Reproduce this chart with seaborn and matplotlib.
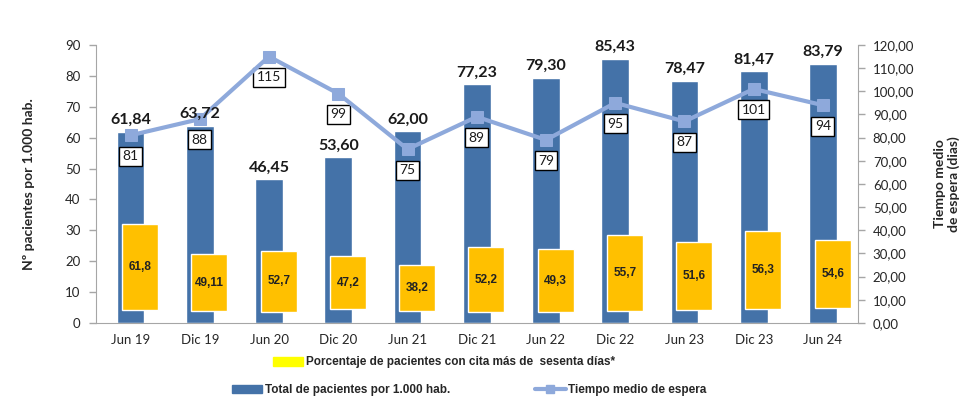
import numpy as np
import matplotlib
matplotlib.use("Agg")
import matplotlib.pyplot as plt
import seaborn as sns
from matplotlib.patches import Patch
from matplotlib.lines import Line2D

# Data
periods = ["Jun 19", "Dic 19", "Jun 20", "Dic 20", "Jun 21", "Dic 21",
           "Jun 22", "Dic 22", "Jun 23", "Dic 23", "Jun 24"]
total_pacientes = [61.84, 63.72, 46.45, 53.60, 62.00, 77.23,
                   79.30, 85.43, 78.47, 81.47, 83.79]
tiempo_espera = [81, 88, 115, 99, 75, 89, 79, 95, 87, 101, 94]
pct_sesenta = ["61,8", "49,11", "52,7", "47,2", "38,2", "52,2",
               "49,3", "55,7", "51,6", "56,3", "54,6"]
# yellow boxes as drawn in the original (left axis units)
pct_box_low = [4.3, 3.8, 3.6, 4.6, 3.8, 3.6, 3.6, 3.8, 4.3, 4.6, 4.9]
pct_box_high = [32.0, 22.3, 23.3, 21.6, 18.7, 24.5, 23.9, 28.4, 26.3, 29.7, 26.8]

BLUE = "#4472A8"
YELLOW = "#FFC000"
LINE = "#8EA9DB"
GRID = "#A6A6A6"

sns.set_style("white")
plt.rcParams["font.family"] = ["Lato", "DejaVu Sans"]

fig = plt.figure(figsize=(9.69, 4.05), dpi=100)
ax = fig.add_axes([0.099, 0.2025, 0.786, 0.6865])

sns.barplot(x=periods, y=total_pacientes, color=BLUE, width=0.4,
            saturation=1, ax=ax, zorder=2)

x = np.arange(len(periods))
low = np.array(pct_box_low)
high = np.array(pct_box_high)
ax.bar(x + 0.14, high - low, bottom=low, width=0.52, color=YELLOW, zorder=3)

for i, lab in enumerate(pct_sesenta):
    ax.text(i + 0.14, (low[i] + high[i]) / 2, lab, ha="center", va="center",
            fontsize=8.5, fontweight="bold", color="#222222",
            family=["Liberation Sans", "DejaVu Sans"], zorder=4)

ax.set_xlim(-0.5, len(periods) - 0.5)
ax.set_ylim(0, 90)
ax.set_yticks(range(0, 91, 10))
ax.set_xticks(x)
ax.set_xticklabels(periods, fontsize=9.5)
ax.set_xticks(np.arange(-0.5, len(periods), 1), minor=True)
ax.tick_params(axis="x", which="major", length=0, pad=8)
ax.tick_params(axis="x", which="minor", length=5, color=GRID, width=1)
ax.tick_params(axis="y", length=5, color=GRID, width=1, labelsize=9.5, pad=6)
ax.set_ylabel("Nº pacientes por 1.000 hab.", fontsize=10, fontweight="bold",
              labelpad=22)
ax.set_xlabel("")
for side in ["top", "right"]:
    ax.spines[side].set_visible(False)
for side in ["left", "bottom"]:
    ax.spines[side].set_color(GRID)

ax2 = ax.twinx()
sns.lineplot(x=x, y=tiempo_espera, color=LINE, linewidth=3, marker="s",
             markersize=8, markeredgecolor=LINE, ax=ax2, zorder=5)
for i, v in enumerate(tiempo_espera):
    ax2.annotate(str(v), (i, v), xytext=(0, -15), textcoords="offset points",
                 ha="center", va="center", fontsize=10, color="#1a1a1a",
                 bbox=dict(boxstyle="square,pad=0.25", fc="white", ec="black", lw=1))
# bar totals drawn above the line, as in the original
for i, v in enumerate(total_pacientes):
    ax2.annotate(f"{v:.2f}".replace(".", ","), (i, v), xycoords=ax.transData,
                 xytext=(0, 3.5), textcoords="offset points", ha="center",
                 va="bottom", fontsize=11.5, fontweight="bold", color="#1a1a1a",
                 zorder=6)
ax2.set_ylim(0, 120)
ax2.set_yticks(range(0, 121, 10))
ax2.set_yticklabels([f"{t},00" for t in range(0, 121, 10)])
ax2.tick_params(axis="y", length=5, color=GRID, width=1, labelsize=9.5, pad=6)
ax2.set_ylabel("Tiempo medio\nde espera (dias)", fontsize=10, fontweight="bold",
               labelpad=14, linespacing=1.1)
for side in ["top", "left", "bottom"]:
    ax2.spines[side].set_visible(False)
ax2.spines["right"].set_color(GRID)
ax2.grid(False)

leg_font = {"family": ["Liberation Sans", "DejaVu Sans"], "weight": "bold", "size": 8.5}
fig.legend(handles=[Patch(color="#FFFF00")],
           labels=["Porcentaje de pacientes con cita más de  sesenta días*"],
           loc="center", bbox_to_anchor=(0.458, 0.105), frameon=False,
           prop=leg_font, handlelength=2.6, handleheight=0.9, handletextpad=0.2)
fig.legend(handles=[Patch(color=BLUE),
                    Line2D([0], [0], color=LINE, lw=3, marker="s", markersize=6)],
           labels=["Total de pacientes por 1.000 hab.", "Tiempo medio de espera"],
           loc="center", bbox_to_anchor=(0.484, 0.036), ncol=2, frameon=False,
           prop=leg_font, handlelength=2.6, handleheight=0.7, handletextpad=0.2,
           columnspacing=7.2)

fig.savefig("out.png", dpi=100)
